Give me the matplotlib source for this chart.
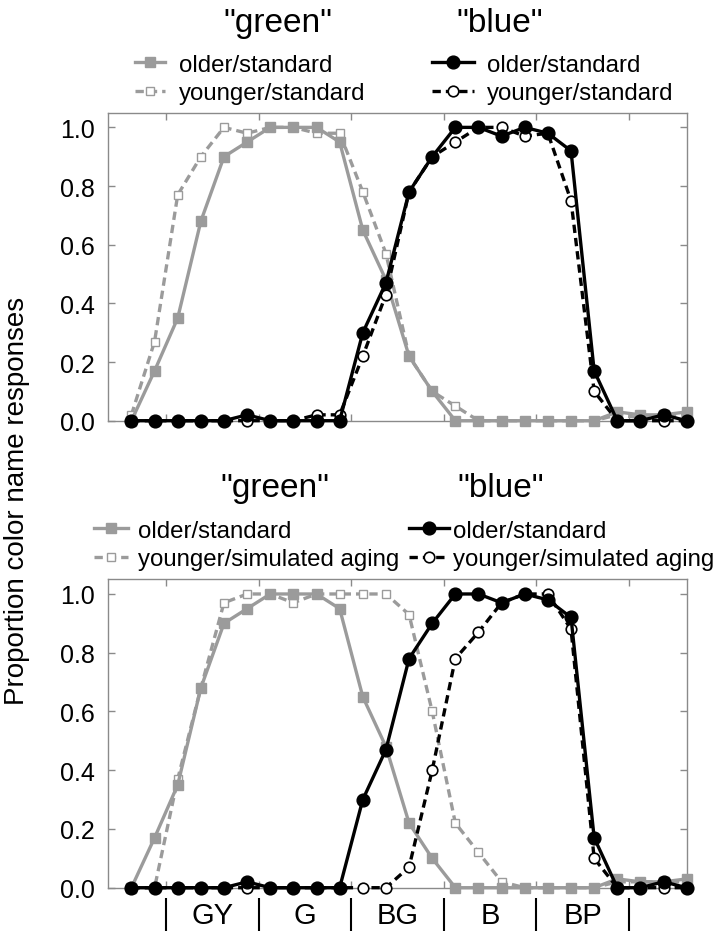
import matplotlib
matplotlib.use("Agg")
import matplotlib.pyplot as plt
import numpy as np

plt.rcParams['font.family'] = ['Liberation Sans', 'DejaVu Sans']

# ---------------- data ----------------
stimulus_index = list(range(25))

green_older_standard = [0, 0.17, 0.35, 0.68, 0.90, 0.95, 1.0, 1.0, 1.0, 0.95, 0.65, 0.48, 0.22,
                        0.10, 0, 0, 0, 0, 0, 0, 0, 0.03, 0.02, 0.02, 0.03]
green_younger_standard = [0.02, 0.27, 0.77, 0.90, 1.0, 0.98, 1.0, 1.0, 0.98, 0.98, 0.78, 0.57, 0.22,
                          0.10, 0.05, 0, 0, 0, 0, 0, 0, 0.02, 0.01, 0.01, 0.02]
blue_older_standard = [0, 0, 0, 0, 0, 0.02, 0, 0, 0, 0, 0.30, 0.47, 0.78,
                       0.90, 1.0, 1.0, 0.97, 1.0, 0.98, 0.92, 0.17, 0, 0, 0.02, 0]
blue_younger_standard = [0, 0, 0, 0, 0, 0, 0, 0, 0.02, 0.02, 0.22, 0.43, 0.78,
                         0.90, 0.95, 1.0, 1.0, 0.97, 0.98, 0.75, 0.10, 0, 0, 0, 0]

green_younger_simulated = [0, 0, 0.37, 0.68, 0.97, 1.0, 1.0, 0.97, 1.0, 1.0, 1.0, 1.0, 0.93,
                           0.60, 0.22, 0.12, 0.02, 0, 0, 0, 0, 0.02, 0.02, 0.02, 0.02]
blue_younger_simulated = [0, 0, 0, 0, 0, 0, 0, 0, 0, 0, 0, 0, 0.07,
                          0.40, 0.78, 0.87, 0.97, 1.0, 1.0, 0.88, 0.10, 0, 0, 0, 0]

category_labels = ["GY", "G", "BG", "B", "BP"]
category_centers = [3.5, 7.5, 11.5, 15.5, 19.5]
category_bounds = [1.5, 5.5, 9.5, 13.5, 17.5, 21.5]
y_ticks = [0.0, 0.2, 0.4, 0.6, 0.8, 1.0]

titles = ['"green"', '"blue"']
labels_top = ["older/standard", "younger/standard"]
labels_bottom = ["older/standard", "younger/simulated aging"]

# ---------------- style ----------------
GRAY = '#9b9b9b'
SPINE = '#8a8a8a'
LW = 2.4
DASH = (2.5, 1.5)
LEG_FS = 17.3

W, H = 720, 937
fig = plt.figure(figsize=(W / 100, H / 100), dpi=100)


def fx(px):
    return px / W


def fy(py):
    return 1 - py / H


L, R = 108.3, 686.7
ax1 = fig.add_axes([fx(L), fy(421.7), fx(R - L), (421.7 - 114) / H])
ax2 = fig.add_axes([fx(L), fy(888.7), fx(R - L), (888.7 - 580) / H])


def draw(ax, g_old, g_young, b_old, b_young, ytop):
    x = stimulus_index
    hs = []
    hs.append(ax.plot(x, g_young, color=GRAY, lw=LW, dashes=DASH, marker='s', ms=5.8,
                      mfc='white', mec=GRAY, mew=1.0, clip_on=False, zorder=3)[0])
    hs.append(ax.plot(x, g_old, color=GRAY, lw=LW, marker='s', ms=7.5,
                      mfc=GRAY, mec=GRAY, clip_on=False, zorder=4)[0])
    hs.append(ax.plot(x, b_young, color='black', lw=LW, dashes=DASH, marker='o', ms=7.6,
                      mfc='white', mec='black', mew=1.2, clip_on=False, zorder=5)[0])
    hs.append(ax.plot(x, b_old, color='black', lw=LW, marker='o', ms=9.2,
                      mfc='black', mec='black', clip_on=False, zorder=6)[0])
    ax.set_xlim(-1, 24)
    ax.set_ylim(0, ytop)
    ax.set_xticks(category_bounds)
    ax.set_xticklabels([])
    ax.set_yticks(y_ticks)
    ax.set_yticklabels([f"{v:.1f}" for v in y_ticks])
    ax.tick_params(direction='in', length=5, width=1, color=SPINE,
                   top=True, right=True, labelsize=18, pad=10)
    for s in ax.spines.values():
        s.set_color(SPINE)
        s.set_linewidth(1.0)
    return hs


h1 = draw(ax1, green_older_standard, green_younger_standard,
          blue_older_standard, blue_younger_standard, 1.049)
h2 = draw(ax2, green_older_standard, green_younger_simulated,
          blue_older_standard, blue_younger_simulated, 1.051)

# titles
for base, (gx, bx) in [(32, (278, 500)), (497, (275, 501))]:
    fig.text(fx(gx), fy(base), titles[0], ha='center', va='baseline', fontsize=24)
    fig.text(fx(bx), fy(base), titles[1], ha='center', va='baseline', fontsize=24)


def make_legend(ax, handles, labels, x_left, y_center, hlen, hpad):
    leg = ax.legend(handles, labels, loc='center left',
                    bbox_to_anchor=(fx(x_left), fy(y_center)),
                    bbox_transform=fig.transFigure, frameon=False,
                    borderpad=0, borderaxespad=0, fontsize=LEG_FS,
                    handlelength=hlen, handletextpad=hpad, labelspacing=0.28,
                    numpoints=1)
    return leg


# top legends
leg_a = make_legend(ax1, [h1[1], h1[0]], labels_top, 135, 80, 1.25, 0.58)
ax1.add_artist(leg_a)
leg_b = make_legend(ax1, [h1[3], h1[2]], labels_top, 432, 80, 1.73, 0.56)

# bottom legends
leg_c = make_legend(ax2, [h2[1], h2[0]], labels_bottom, 94, 546, 1.42, 0.42)
ax2.add_artist(leg_c)
leg_d = make_legend(ax2, [h2[3], h2[2]], labels_bottom, 409, 546, 1.67, 0.17)

# category labels under bottom panel
trans = ax2.get_xaxis_transform()
ax2.vlines(category_bounds, -0.034, -0.141, transform=trans, colors='black',
           lw=1.5, clip_on=False)
for cx, lab in zip(category_centers, category_labels):
    ax2.text(cx, -0.088, lab, transform=trans, ha='center', va='center', fontsize=21)

fig.text(fx(17.5), fy(501), "Proportion color name responses", rotation=90,
         ha='center', va='center', fontsize=20)

fig.savefig("out.png", dpi=100)
